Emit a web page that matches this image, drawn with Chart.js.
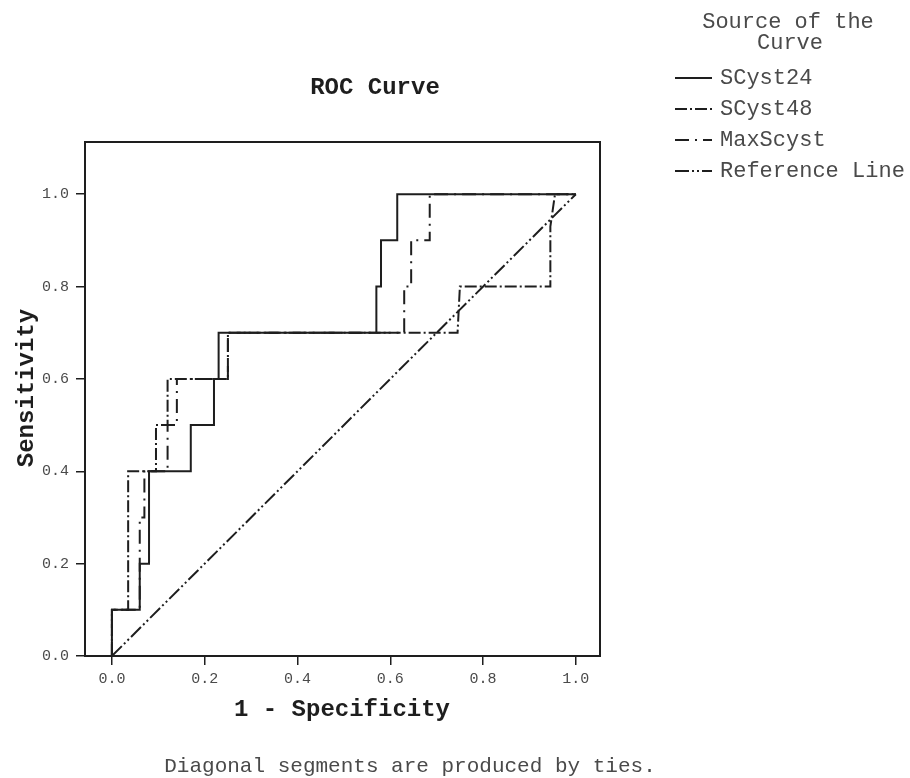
<!DOCTYPE html>
<html lang="en">
<head>
<meta charset="UTF-8">
<title>ROC Curve</title>
<script src="https://cdn.jsdelivr.net/npm/chart.js"></script>
<style>
  html, body { margin: 0; padding: 0; background: #fff; }
</style>
</head>
<body>
<canvas id="rocChart" width="910" height="778"></canvas>
<script>
    // 1 - specificity (x) and sensitivity (y) for each test variable
    const scyst24Fpr = [0, 0, 0.06, 0.06, 0.08, 0.08, 0.17, 0.17, 0.22, 0.22, 0.23, 0.23, 0.57, 0.57, 0.58, 0.58, 0.615, 0.615, 1];
    const scyst24Tpr = [0, 0.1, 0.1, 0.2, 0.2, 0.4, 0.4, 0.5, 0.5, 0.6, 0.6, 0.7, 0.7, 0.8, 0.8, 0.9, 0.9, 1, 1];

    const scyst48Fpr = [0, 0, 0.035, 0.035, 0.095, 0.095, 0.12, 0.12, 0.25, 0.25, 0.745, 0.75, 0.945, 0.945, 0.955, 1];
    const scyst48Tpr = [0, 0.1, 0.1, 0.4, 0.4, 0.5, 0.5, 0.6, 0.6, 0.7, 0.7, 0.8, 0.8, 0.93, 1, 1];

    const maxScystFpr = [0, 0, 0.06, 0.06, 0.07, 0.07, 0.12, 0.12, 0.14, 0.14, 0.25, 0.25, 0.63, 0.63, 0.645, 0.645, 0.685, 0.685, 1];
    const maxScystTpr = [0, 0.1, 0.1, 0.3, 0.3, 0.4, 0.4, 0.5, 0.5, 0.6, 0.6, 0.7, 0.7, 0.8, 0.8, 0.9, 0.9, 1, 1];

    const referenceFpr = [0, 1];
    const referenceTpr = [0, 1];

    const seriesNames = ['SCyst24', 'SCyst48', 'MaxScyst', 'Reference Line'];
    const xTicks = [0, 0.2, 0.4, 0.6, 0.8, 1.0];
    const yTicks = [0, 0.2, 0.4, 0.6, 0.8, 1.0];

    const INK = '#1e1e1e';
    const GREY = '#4a4a4a';
    const MONO = '"Liberation Mono", "DejaVu Sans Mono", monospace';

    function toPoints(xs, ys) {
        return xs.map((x, i) => ({ x: x, y: ys[i] }));
    }

    function line(label, xs, ys, dash) {
        return {
            label: label,
            data: toPoints(xs, ys),
            showLine: true,
            borderColor: INK,
            borderWidth: 2,
            borderDash: dash,
            pointRadius: 0,
            fill: false,
            tension: 0
        };
    }

    // frame, titles, footnote and the legend block on the right
    const decorations = {
        id: 'decorations',
        afterDraw(chart) {
            const { ctx, chartArea: a } = chart;
            ctx.save();
            ctx.strokeStyle = INK;
            ctx.lineWidth = 2;
            ctx.strokeRect(a.left, a.top, a.right - a.left, a.bottom - a.top);

            ctx.fillStyle = INK;
            ctx.textAlign = 'center';
            ctx.textBaseline = 'middle';
            ctx.font = 'bold 24px ' + MONO;
            ctx.fillText('ROC Curve', 375, 88);
            ctx.fillText('1 - Specificity', 342, 710);
            ctx.save();
            ctx.translate(27, 388);
            ctx.rotate(-Math.PI / 2);
            ctx.fillText('Sensitivity', 0, 0);
            ctx.restore();

            ctx.fillStyle = GREY;
            ctx.font = '21px ' + MONO;
            ctx.fillText('Diagonal segments are produced by ties.', 410, 766);

            ctx.font = '22px ' + MONO;
            ctx.fillText('Source of the', 788, 22);
            ctx.fillText('Curve', 790, 43);
            ctx.textAlign = 'left';
            chart.data.datasets.forEach((ds, i) => {
                const y = 78 + i * 31;
                ctx.setLineDash(ds.borderDash);
                ctx.lineWidth = 2;
                ctx.beginPath();
                ctx.moveTo(675, y);
                ctx.lineTo(712, y);
                ctx.stroke();
                ctx.setLineDash([]);
                ctx.fillText(ds.label, 720, y);
            });
            ctx.restore();
        }
    };

    new Chart(document.getElementById('rocChart'), {
        type: 'scatter',
        data: {
            datasets: [
                line(seriesNames[0], scyst24Fpr, scyst24Tpr, []),
                line(seriesNames[1], scyst48Fpr, scyst48Tpr, [12, 3, 2, 3]),
                line(seriesNames[2], maxScystFpr, maxScystTpr, [14, 6, 2, 6]),
                line(seriesNames[3], referenceFpr, referenceTpr, [14, 3, 2, 3, 2, 3])
            ]
        },
        options: {
            responsive: false,
            animation: false,
            layout: { padding: { left: 0, top: 142, right: 310, bottom: 0 } },
            plugins: {
                legend: { display: false },
                title: { display: false },
                tooltip: { enabled: false }
            },
            scales: {
                x: {
                    type: 'linear',
                    min: -0.058,
                    max: 1.052,
                    afterBuildTicks: s => { s.ticks = xTicks.map(v => ({ value: v })); },
                    afterFit: s => { s.height = 122; },
                    grid: { drawOnChartArea: false, drawTicks: true, tickLength: 9, color: INK, lineWidth: 1.5 },
                    border: { display: true, color: INK, width: 2 },
                    ticks: {
                        padding: 5,
                        color: GREY,
                        font: { family: MONO, size: 15 },
                        callback: v => v.toFixed(1)
                    }
                },
                y: {
                    type: 'linear',
                    min: 0,
                    max: 1.113,
                    afterBuildTicks: s => { s.ticks = yTicks.map(v => ({ value: v })); },
                    afterFit: s => { s.width = 85; },
                    grid: { drawOnChartArea: false, drawTicks: true, tickLength: 9, color: INK, lineWidth: 1.5 },
                    border: { display: true, color: INK, width: 2 },
                    ticks: {
                        padding: 7,
                        color: GREY,
                        font: { family: MONO, size: 15 },
                        callback: v => v.toFixed(1)
                    }
                }
            }
        },
        plugins: [decorations]
    });
</script>
</body>
</html>
